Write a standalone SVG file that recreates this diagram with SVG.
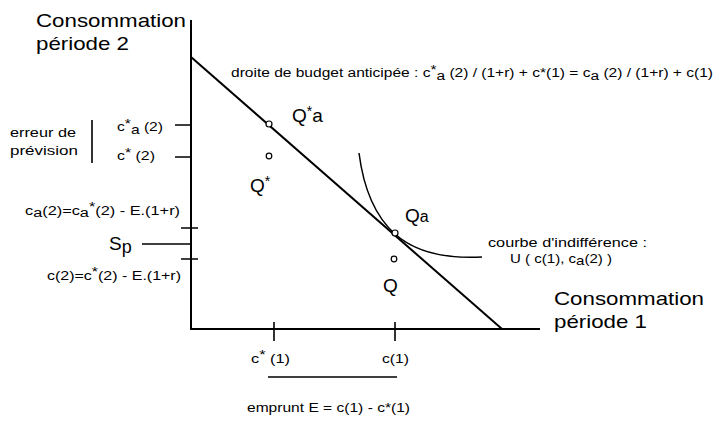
<svg xmlns="http://www.w3.org/2000/svg" width="727" height="421" viewBox="0 0 727 421">
<style>
text{font-family:"Liberation Sans",Arial,sans-serif;fill:#000}
.big{font-size:19px}
.sm{font-size:12.5px}
.md{font-size:13.5px}
.ax{stroke:#000;stroke-width:2;fill:none}
.tk{stroke:#000;stroke-width:1.6;fill:none}
.pt{fill:#fff;stroke:#000;stroke-width:1.2}
</style>
<rect width="727" height="421" fill="#fff"/>
<g id="connectors">
<path class="ax" d="M191,20 V329 H540"/>
<path class="ax" d="M191,57 L502,329"/>
<path d="M359,153 Q366,208 395,234 T482,257" fill="none" stroke="#000" stroke-width="1.5"/>
<path class="tk" d="M175,125 H191 M175,157 H191 M181,228 H198 M181,259 H198 M142,244 H191 M274,322 V341 M395,322 V341 M268,377 H397 M92,120 V163"/>
</g>
<g id="axis-y-label">
<text class="big" x="36" y="27" textLength="150" lengthAdjust="spacingAndGlyphs">Consommation</text>
<text class="big" x="36" y="50" textLength="93" lengthAdjust="spacingAndGlyphs">période 2</text>
</g>
<g id="axis-x-label">
<text class="big" x="554" y="305" textLength="150" lengthAdjust="spacingAndGlyphs">Consommation</text>
<text class="big" x="554" y="328" textLength="93" lengthAdjust="spacingAndGlyphs">période 1</text>
</g>
<g id="budget-label">
<text class="sm" x="231" y="77" textLength="482" lengthAdjust="spacingAndGlyphs">droite de budget anticipée : c<tspan dy="-3">*</tspan><tspan dy="6">a</tspan><tspan dy="-3"> (2) / (1+r) + c*(1) = c</tspan><tspan dy="3">a</tspan><tspan dy="-3"> (2) / (1+r) + c(1)</tspan></text>
</g>
<g id="erreur">
<text class="sm" x="10" y="137" textLength="66" lengthAdjust="spacingAndGlyphs">erreur de</text>
<text class="sm" x="10" y="155" textLength="68" lengthAdjust="spacingAndGlyphs">prévision</text>
<text class="md" x="117" y="131" textLength="46" lengthAdjust="spacingAndGlyphs">c<tspan dy="-3">*</tspan><tspan dy="6">a</tspan><tspan dy="-3"> (2)</tspan></text>
<text class="md" x="117" y="160" textLength="38" lengthAdjust="spacingAndGlyphs">c<tspan dy="-3">*</tspan><tspan dy="3"> (2)</tspan></text>
</g>
<g id="ca2-label">
<text class="sm" x="25" y="215" textLength="155" lengthAdjust="spacingAndGlyphs">c<tspan dy="2">a</tspan><tspan dy="-2">(2)=c</tspan><tspan dy="2">a</tspan><tspan dy="-6">*</tspan><tspan dy="4">(2) - E.(1+r)</tspan></text>
</g>
<g id="sp">
<text class="big" x="109" y="250" font-size="21">S<tspan font-size="18" dy="3">p</tspan></text>
</g>
<g id="c2-label">
<text class="sm" x="47" y="280" textLength="134" lengthAdjust="spacingAndGlyphs">c(2)=c<tspan dy="-4">*</tspan><tspan dy="4">(2) - E.(1+r)</tspan></text>
</g>
<g id="Qstar-a">
<circle class="pt" cx="269" cy="124" r="3"/>
<text class="big" x="292" y="122">Q<tspan dy="-6" font-size="14">*</tspan><tspan dy="6">a</tspan></text>
</g>
<g id="Qstar">
<circle class="pt" cx="269" cy="156" r="2.8"/>
<text class="big" x="250" y="192">Q<tspan dy="-6" font-size="14">*</tspan></text>
</g>
<g id="Qa">
<circle class="pt" cx="395" cy="233" r="3"/>
<text class="big" x="405" y="222">Q<tspan font-size="16">a</tspan></text>
</g>
<g id="Q">
<circle class="pt" cx="394" cy="259" r="2.8"/>
<text class="big" x="383" y="292">Q</text>
</g>
<g id="indiff-label">
<text class="md" x="488" y="247" textLength="159" lengthAdjust="spacingAndGlyphs">courbe d'indifférence :</text>
<text class="md" x="510" y="263" textLength="102" lengthAdjust="spacingAndGlyphs">U ( c(1), c<tspan dy="2">a</tspan><tspan dy="-2">(2) )</tspan></text>
</g>
<g id="x-ticks">
<text class="md" x="251" y="363" textLength="39" lengthAdjust="spacingAndGlyphs">c<tspan dy="-4">*</tspan><tspan dy="4">  (1)</tspan></text>
<text class="md" x="382" y="363" textLength="27" lengthAdjust="spacingAndGlyphs">c(1)</text>
</g>
<g id="emprunt">
<text class="sm" x="247" y="412" textLength="163" lengthAdjust="spacingAndGlyphs">emprunt E = c(1) - c*(1)</text>
</g>
</svg>
